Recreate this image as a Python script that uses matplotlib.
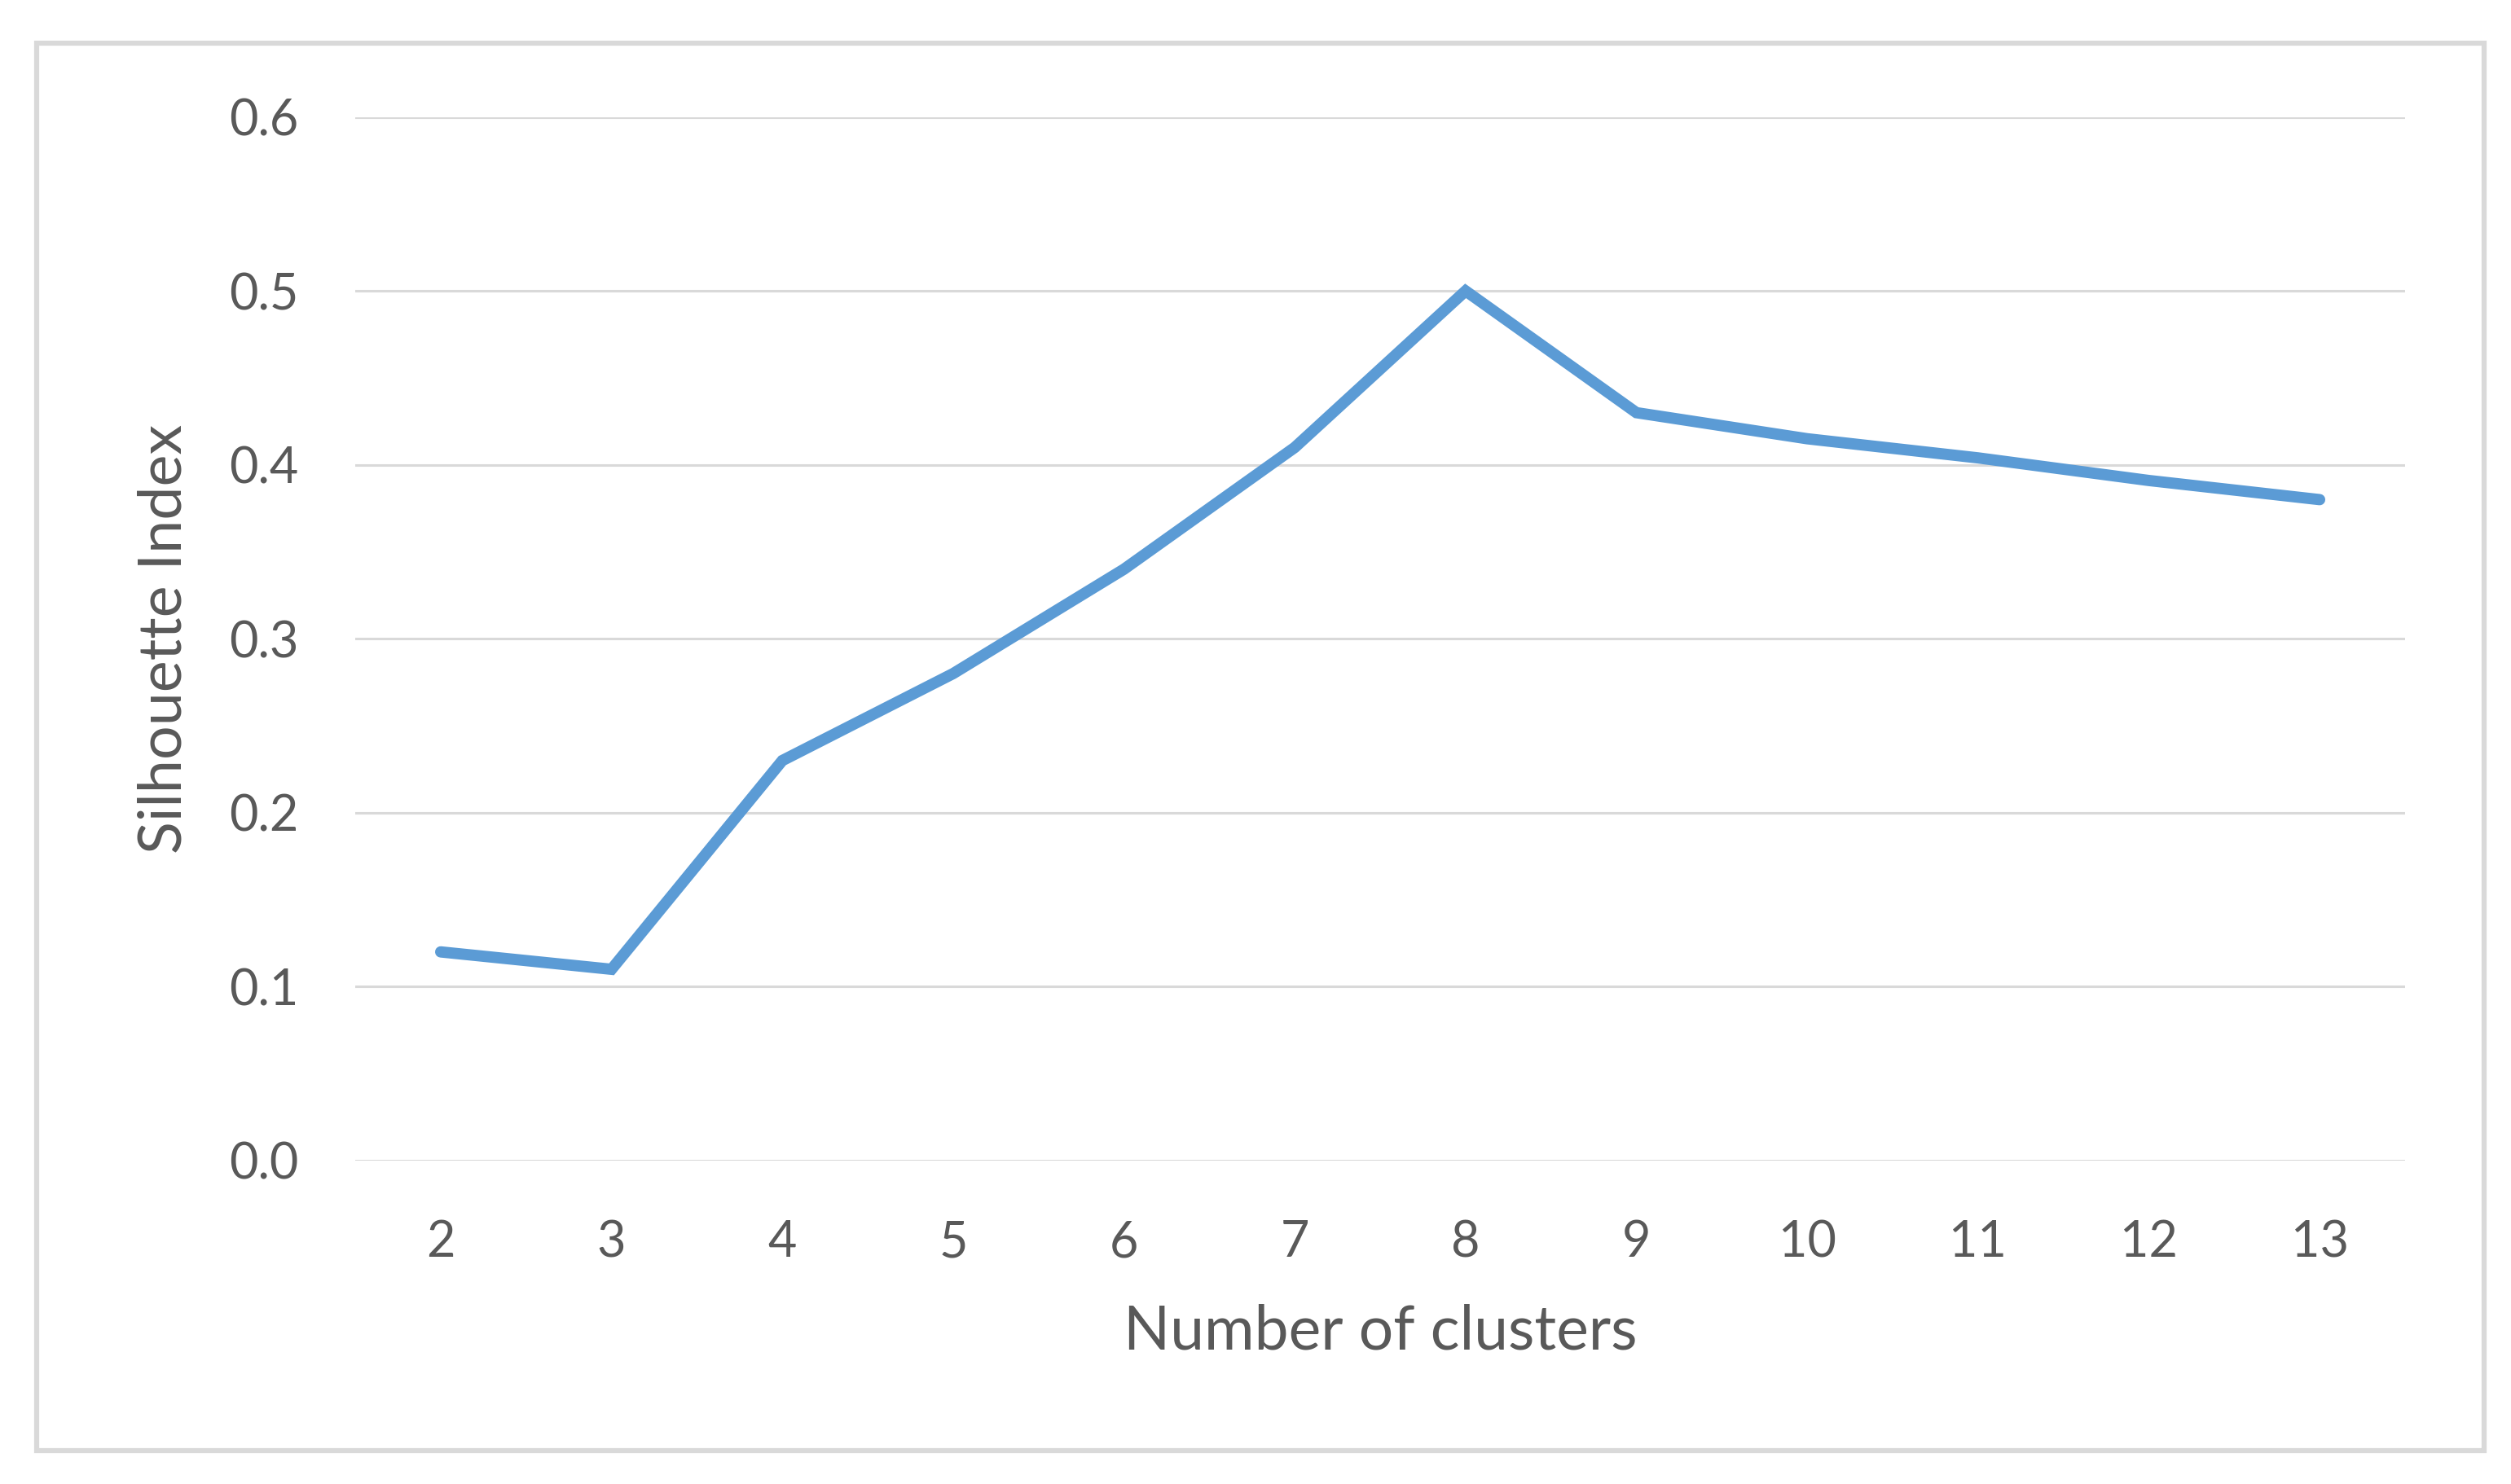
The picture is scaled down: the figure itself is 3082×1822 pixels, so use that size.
import matplotlib.pyplot as plt
from matplotlib.patches import Rectangle

# silhouette score per number of clusters
clusters = [2, 3, 4, 5, 6, 7, 8, 9, 10, 11, 12, 13]
silhouette = [0.12, 0.11, 0.23, 0.28, 0.34, 0.41, 0.50, 0.43, 0.415, 0.404, 0.391, 0.38]
y_ticks = [0.0, 0.1, 0.2, 0.3, 0.4, 0.5, 0.6]

text_colour = "#595959"
grid_colour = "#d9d9d9"
line_colour = "#5b9bd5"

plt.rcParams["font.family"] = ["Lato", "DejaVu Sans"]

fig = plt.figure(figsize=(30.82, 18.22), dpi=100)
ax = fig.add_axes([0.1415, 0.2179, 0.8163, 0.7033])

ax.plot(clusters, silhouette, color=line_colour, lw=10, solid_capstyle="round", solid_joinstyle="miter")

ax.set_xlim(1.5, 13.5)
ax.set_ylim(0, 0.6)
ax.set_xticks(clusters)
ax.set_xticklabels([str(c) for c in clusters])
ax.set_yticks(y_ticks)
ax.set_yticklabels(["%.1f" % v for v in y_ticks])
ax.grid(axis="y", color=grid_colour, lw=2.2)
ax.set_axisbelow(True)
for s in ax.spines.values():
    s.set_visible(False)
ax.tick_params(axis="both", length=0, labelsize=44, colors=text_colour)
ax.tick_params(axis="y", pad=50)
ax.tick_params(axis="x", pad=52)

ax.set_xlabel("Number of clusters", fontsize=54, color=text_colour, va="center")
ax.xaxis.set_label_coords(0.5, -0.164)
ax.set_ylabel("Silhouette Index", fontsize=53, color=text_colour, va="center")
ax.yaxis.set_label_coords(-0.093, 0.5)

# chart border
fig.patches.append(Rectangle((0.0146, 0.0225), 0.9747, 0.9484, transform=fig.transFigure,
                             fill=False, edgecolor=grid_colour, lw=4.5))

fig.savefig("out.png", dpi=100, facecolor="white")
